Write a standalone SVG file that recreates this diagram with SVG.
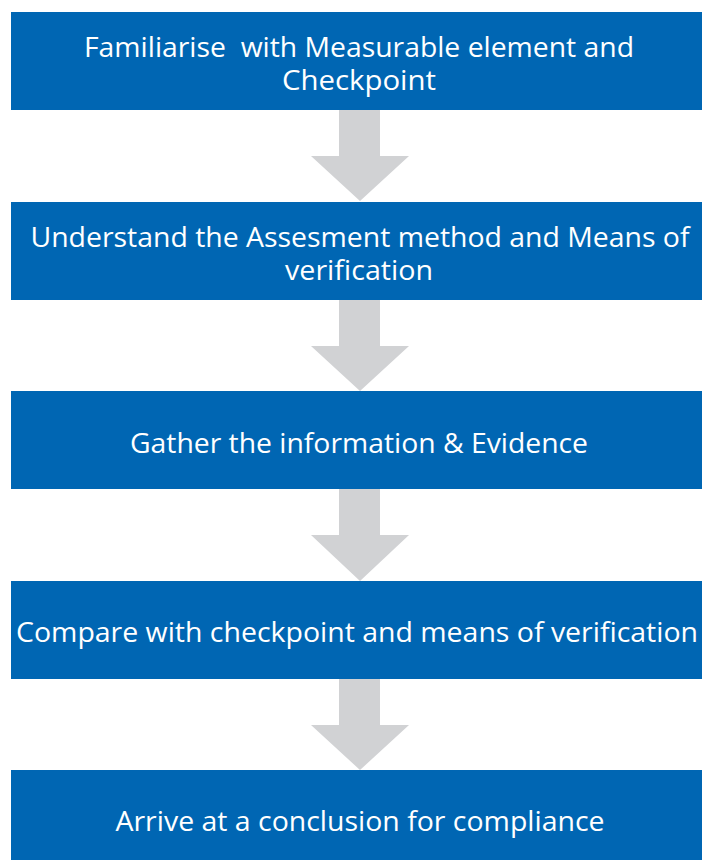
<svg xmlns="http://www.w3.org/2000/svg" width="702" height="860" viewBox="0 0 702 860">
<style>
.box{fill:#0066B3}
.arrow{fill:#D1D2D4}
.t{fill:#FFFFFF;font-family:"Open Sans","Liberation Sans",sans-serif;font-size:28px;text-anchor:middle}
</style>
<rect width="702" height="860" fill="#FFFFFF"/>
<g id="connectors">
<polygon class="arrow" points="339,110 380,110 380,156 409,156 360,201 311,156 339,156"/>
<polygon class="arrow" points="339,300 380,300 380,346 409,346 360,391 311,346 339,346"/>
<polygon class="arrow" points="339,489 380,489 380,535 409,535 360,581 311,535 339,535"/>
<polygon class="arrow" points="339,679 380,679 380,725 409,725 360,770 311,725 339,725"/>
</g>
<g id="node1">
<rect class="box" x="11" y="12" width="700" height="98"/>
<text class="t" x="359" y="57" textLength="550" lengthAdjust="spacingAndGlyphs" xml:space="preserve">Familiarise  with Measurable element and</text>
<text class="t" x="359" y="90" textLength="154" lengthAdjust="spacingAndGlyphs">Checkpoint</text>
</g>
<g id="node2">
<rect class="box" x="11" y="202" width="700" height="98"/>
<text class="t" x="360" y="247" textLength="659" lengthAdjust="spacingAndGlyphs">Understand the Assesment method and Means of</text>
<text class="t" x="359" y="280" textLength="148" lengthAdjust="spacingAndGlyphs">verification</text>
</g>
<g id="node3">
<rect class="box" x="11" y="391" width="700" height="98"/>
<text class="t" x="359" y="453" textLength="458" lengthAdjust="spacingAndGlyphs">Gather the information &amp; Evidence</text>
</g>
<g id="node4">
<rect class="box" x="11" y="581" width="700" height="98"/>
<text class="t" x="357" y="642" textLength="682" lengthAdjust="spacingAndGlyphs">Compare with checkpoint and means of verification</text>
</g>
<g id="node5">
<rect class="box" x="11" y="770" width="700" height="100"/>
<text class="t" x="360" y="831" textLength="489" lengthAdjust="spacingAndGlyphs">Arrive at a conclusion for compliance</text>
</g>
</svg>
